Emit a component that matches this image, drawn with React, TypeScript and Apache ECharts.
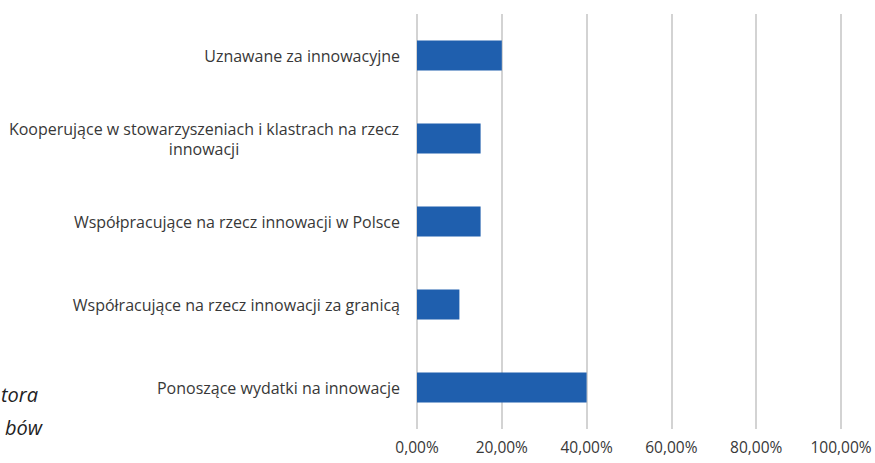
import React, { useEffect, useRef } from "react";
import * as echarts from "echarts";

const categories = [
  "Uznawane za innowacyjne",
  "Kooperujące w stowarzyszeniach i klastrach na rzecz\ninnowacji",
  "Współpracujące na rzecz innowacji w Polsce",
  "Współracujące na rzecz innowacji za granicą",
  "Ponoszące wydatki na innowacje",
];
const values = [20, 15, 15, 10, 40];
const sideTexts = ["tora", "bów"];

export default function App() {
  const ref = useRef<HTMLDivElement>(null);
  useEffect(() => {
    const chart = echarts.init(ref.current!, null, { renderer: "svg" });
    const font = "'Open Sans', sans-serif";
    chart.setOption({
      animation: false,
      grid: { left: 417, right: 34, top: 14, bottom: 34, containLabel: false },
      xAxis: {
        type: "value",
        min: 0,
        max: 100,
        interval: 20,
        axisLine: { show: false },
        axisTick: { show: false },
        splitLine: { lineStyle: { color: "#c4c4c4", width: 1.5 } },
        axisLabel: {
          formatter: (v: number) => v.toFixed(2).replace(".", ",") + "%",
          color: "#383838",
          fontSize: 15.5,
          fontFamily: font,
          margin: 10,
        },
      },
      yAxis: {
        type: "category",
        inverse: true,
        data: categories,
        axisLine: { show: false },
        axisTick: { show: false },
        axisLabel: {
          margin: 17,
          color: "#383838",
          fontSize: 16,
          fontFamily: font,
          lineHeight: 20,
          formatter: (v: string) => {
            if (v.includes("\n")) {
              return v
                .split("\n")
                .map((l) => "{c|" + l + "}")
                .join("\n");
            }
            return v;
          },
          rich: {
            c: {
              width: 392,
              align: "center",
              color: "#383838",
              fontSize: 16,
              fontFamily: font,
              lineHeight: 20,
            },
          },
        },
      },
      series: [
        {
          type: "bar",
          data: values,
          barWidth: 30,
          itemStyle: { color: "#1f5fae" },
        },
      ],
      graphic: [
        {
          type: "text",
          right: 837,
          top: 384,
          style: {
            text: sideTexts[0],
            font: "italic 20px 'Open Sans', sans-serif",
            fill: "#222",
          },
        },
        {
          type: "text",
          right: 833,
          top: 417,
          style: {
            text: sideTexts[1],
            font: "italic 20px 'Open Sans', sans-serif",
            fill: "#222",
          },
        },
      ],
    });
    return () => chart.dispose();
  }, []);
  return (
    <div
      ref={ref}
      style={{ position: "fixed", left: 0, top: 0, width: 875, height: 463, background: "#fff" }}
    />
  );
}
